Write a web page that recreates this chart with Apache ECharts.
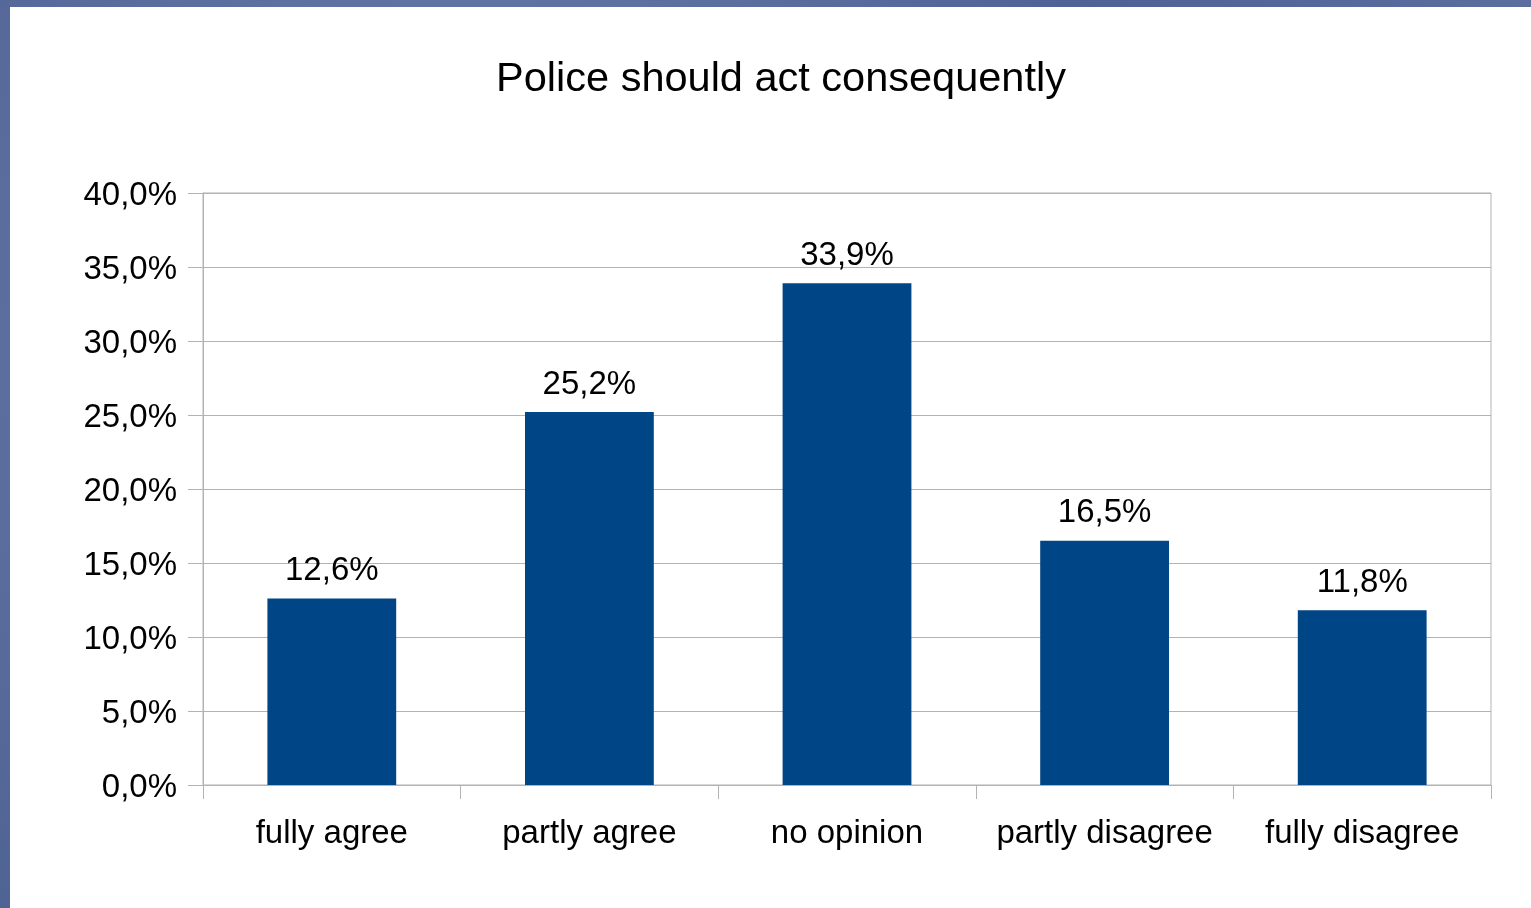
<!DOCTYPE html>
<html>
<head>
<meta charset="utf-8">
<script src="https://cdn.jsdelivr.net/npm/echarts@6/dist/echarts.min.js"></script>
<style>
  html, body { margin: 0; padding: 0; width: 1531px; height: 908px; overflow: hidden;
    background: #5a6d9c; }
  #frame { position: absolute; left: 0; top: 0; width: 1531px; height: 908px;
    background: radial-gradient(circle at 30% 40%, #6f82b0 0%, #4f6294 60%, #5d70a0 100%); }
  #chart { position: absolute; left: 10px; top: 7px; width: 1521px; height: 901px; background: #ffffff; }
</style>
</head>
<body>
<div id="frame"></div>
<div id="chart"></div>
<script>
const titleText = 'Police should act consequently';
const categories = ['fully agree', 'partly agree', 'no opinion', 'partly disagree', 'fully disagree'];
const values = [12.6, 25.2, 33.9, 16.5, 11.8];
const yTicks = { min: 0, max: 40, interval: 5 };

function pct(v) { return Number(v).toFixed(1).replace('.', ',') + '%'; }

const chart = echarts.init(document.getElementById('chart'), null, { renderer: 'canvas' });
const font = '"Liberation Sans", Arial, sans-serif';
chart.setOption({
  backgroundColor: '#ffffff',
  animation: false,
  title: {
    text: titleText,
    left: 766,
    top: 47,
    textAlign: 'center',
    textStyle: { fontFamily: font, fontSize: 41.5, fontWeight: 'normal', color: '#000' }
  },
  grid: {
    left: 193, top: 186, right: 40, bottom: 123,
    show: true, borderColor: '#b3b3b3', borderWidth: 1, backgroundColor: 'transparent'
  },
  xAxis: {
    type: 'category',
    data: categories,
    axisLine: { show: true, lineStyle: { color: '#b3b3b3', width: 1 } },
    axisTick: { show: true, alignWithLabel: false, length: 14, lineStyle: { color: '#b3b3b3' } },
    axisLabel: { fontFamily: font, fontSize: 33, color: '#000', margin: 32, interval: 0 }
  },
  yAxis: {
    type: 'value',
    min: yTicks.min, max: yTicks.max, interval: yTicks.interval,
    axisLine: { show: true, lineStyle: { color: '#b3b3b3', width: 1 } },
    axisTick: { show: true, length: 15, lineStyle: { color: '#b3b3b3' } },
    splitLine: { show: true, lineStyle: { color: '#b3b3b3', width: 1 } },
    axisLabel: {
      margin: 26,
      formatter: v => '{a|' + pct(v) + '}',
      rich: { a: { fontFamily: font, fontSize: 33, color: '#000', padding: [6, 0, 0, 0] } }
    }
  },
  series: [{
    type: 'bar',
    data: values,
    barWidth: '50%',
    itemStyle: { color: '#004586' },
    label: {
      show: true, position: 'top', distance: 11,
      fontFamily: font, fontSize: 33, color: '#000',
      formatter: p => pct(p.value)
    }
  }]
});
</script>
</body>
</html>
